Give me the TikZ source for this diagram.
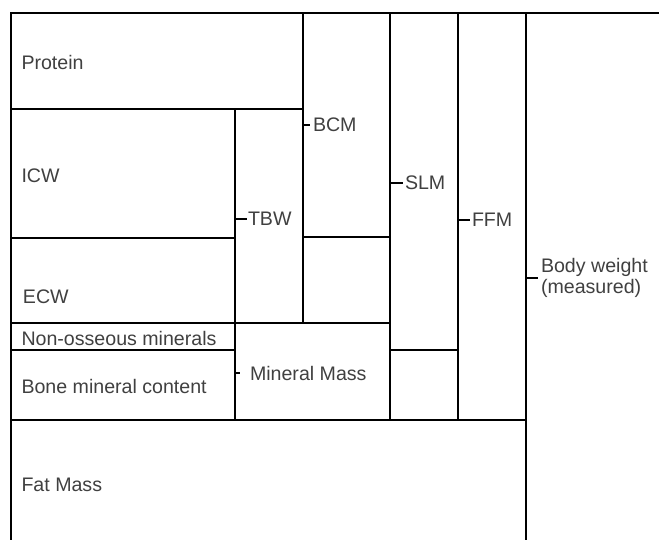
\documentclass[tikz,border=0pt]{standalone}
\usepackage{fontspec}
\setmainfont{Liberation Sans}
\begin{document}
\begin{tikzpicture}[x=1pt,y=-1pt,
  part/.style={line width=1.6pt,line cap=rect},
  tick/.style={line width=1.6pt},
  lbl/.style={inner sep=0pt,outer sep=0pt,text=black!75,font=\fontsize{19.6}{20.5}\selectfont},
  boxlbl/.style={lbl,anchor=base west},
  sumlbl/.style={lbl,anchor=base west}]
\useasboundingbox (0,0) rectangle (659,540);
% vertical line positions
\coordinate (xL) at (11,0);
\coordinate (xTBW) at (235,0);
\coordinate (xBCM) at (303,0);
\coordinate (xSLM) at (390,0);
\coordinate (xFFM) at (458,0);
\coordinate (xBW) at (526,0);
% frame lines
\draw[part] (11,13) -- (659,13);
\draw[part] (11,13) -- (11,541);
\draw[part] (526,13) -- (526,541);
\draw[part] (11,420) -- (526,420);
\draw[part] (458,13) -- (458,420);
\draw[part] (390,13) -- (390,420);
\draw[part] (303,13) -- (303,323);
\draw[part] (235,109) -- (235,420);
\draw[part] (11,109) -- (303,109);
\draw[part] (11,238) -- (235,238);
\draw[part] (303,237) -- (390,237);
\draw[part] (11,323) -- (390,323);
\draw[part] (11,350) -- (235,350);
\draw[part] (390,350) -- (458,350);
% compartment labels
\node[boxlbl] (protein) at (21.5,70) {Protein};
\node[boxlbl] (icw) at (21.5,183) {ICW};
\node[boxlbl] (ecw) at (23,303) {ECW};
\node[boxlbl] (nom) at (21.5,345) {Non-osseous minerals};
\node[boxlbl] (bmc) at (21.5,393) {Bone mineral content};
\node[boxlbl] (fat) at (21.5,491) {Fat Mass};
% summary labels
\node[sumlbl] (tbw) at (248,226) {TBW};
\node[sumlbl] (bcm) at (313,132) {BCM};
\node[sumlbl] (slm) at (405,190) {SLM};
\node[sumlbl] (ffm) at (472,227) {FFM};
\node[sumlbl] (mm) at (250,380) {Mineral Mass};
\node[lbl,anchor=west,align=left] (bw) at (541,278) {Body weight\\(measured)};
% ticks
\draw[tick] (xTBW |- tbw.west) -- ([xshift=-1pt]tbw.west);
\draw[tick] (xBCM |- bcm.west) -- ([xshift=-3pt]bcm.west);
\draw[tick] (xSLM |- slm.west) -- ([xshift=-2pt]slm.west);
\draw[tick] (xFFM |- ffm.west) -- ([xshift=-2pt]ffm.west);
\draw[tick] (xTBW |- mm.west) -- ([xshift=-10pt]mm.west);
\draw[tick] (xBW |- bw.west) -- ([xshift=-3pt]bw.west);
\end{tikzpicture}
\end{document}
